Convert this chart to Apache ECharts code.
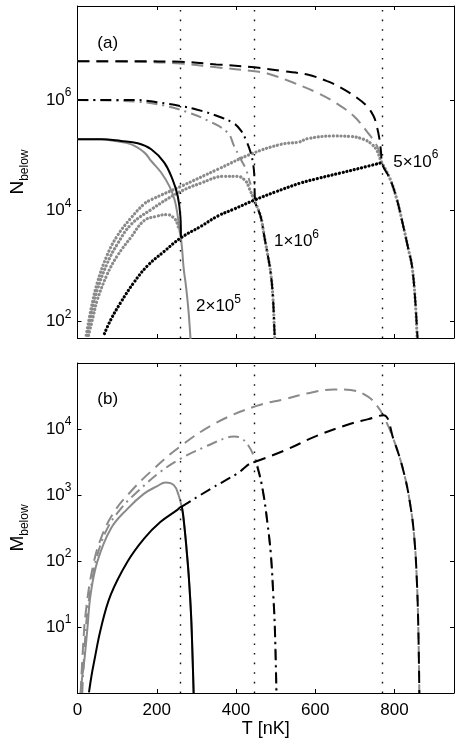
<!DOCTYPE html>
<html>
<head>
<meta charset="utf-8">
<script src="https://cdn.jsdelivr.net/npm/echarts@6/dist/echarts.min.js"></script>
<style>
  html, body { margin: 0; padding: 0; background: #fff; }
  #chart { width: 463px; height: 750px; }
</style>
</head>
<body>
<div id="chart"></div>
<script>
// transition temperatures (vertical dotted lines)
const tcList = [260, 447, 770]

// ---- panel (a): N_below ----
// 5x10^6, dashed
const aDashBlackT = [0, 150, 260, 350, 447, 520, 580, 630, 663, 705, 730, 747, 755, 762, 766, 768, 789, 806, 822, 835, 844, 852, 857, 859]
const aDashBlackN = [5.0e6, 5.0e6, 4.9e6, 4.4e6, 3.89e6, 3.31e6, 2.88e6, 2.19e6, 1.7e6, 1.1e6, 7.76e5, 5.13e5, 3.39e5, 1.95e5, 1.12e5, 7.4e4, 3.7e4, 1.58e4, 5.25e3, 2.0e3, 1.0e3, 251, 66, 40]
const aDashGrayT = [0, 150, 260, 350, 447, 479, 542, 605, 651, 697, 739, 751, 760, 766]
const aDashGrayN = [5.0e6, 4.9e6, 4.57e6, 3.9e6, 3.31e6, 3.02e6, 2.09e6, 1.35e6, 8.9e5, 5.13e5, 2.24e5, 1.7e5, 1.26e5, 8.9e4]
// 1x10^6, dash-dot
const aDashDotBlackT = [0, 150, 200, 261, 300, 353, 394, 412, 425, 437, 443, 446, 448, 462, 471, 480, 487, 493, 497, 499]
const aDashDotBlackN = [1.0e6, 1.0e6, 9.1e5, 7.76e5, 6.76e5, 5.13e5, 3.8e5, 2.82e5, 1.9e5, 1.12e5, 7.1e4, 4.47e4, 1.55e4, 7.9e3, 3.55e3, 1.58e3, 794, 282, 66, 32]
const aDashDotGrayT = [0, 150, 220, 278, 330, 379, 395, 412, 425, 433, 437]
const aDashDotGrayN = [1.0e6, 9.3e5, 7.9e5, 6.0e5, 4.2e5, 2.57e5, 1.48e5, 8.5e4, 5.6e4, 3.63e4, 2.95e4]
// 2x10^5, solid
const aSolidBlackT = [0, 60, 110, 152, 186, 219, 240, 253, 259.6, 261]
const aSolidBlackN = [1.95e5, 1.95e5, 1.82e5, 1.66e5, 1.29e5, 7.4e4, 3.63e4, 1.82e4, 7.9e3, 3.3e3]
const aSolidGrayT = [0, 60, 94, 136, 169, 186, 211, 232, 245, 253, 257, 261, 264, 268, 274, 280, 285, 287]
const aSolidGrayN = [1.95e5, 1.95e5, 1.82e5, 1.58e5, 1.12e5, 7.9e4, 4.9e4, 2.75e4, 1.58e4, 7.9e3, 4.57e3, 3.16e3, 2.0e3, 890, 417, 158, 50, 25]
// dotted curves
const aDotBlackT = [68, 84, 109, 142, 176, 218, 261, 312, 353, 395, 446, 500, 563, 605, 663, 720, 768]
const aDotBlackN = [60, 107, 219, 500, 1000, 1820, 3240, 5250, 7940, 1.07e4, 1.55e4, 2.19e4, 3.16e4, 3.8e4, 4.79e4, 6.03e4, 7.4e4]
const aDotGrayHiT = [22, 35, 50, 75, 100, 135, 168, 186, 261, 354, 437, 513, 559, 580, 647, 689, 722, 743, 756, 764, 768, 789, 806, 822, 835, 844, 852, 857]
const aDotGrayHiN = [56, 178, 500, 1580, 3470, 7400, 1.32e4, 1.58e4, 2.75e4, 5.6e4, 1.05e5, 1.58e5, 1.74e5, 2.0e5, 2.24e5, 2.19e5, 1.95e5, 1.58e5, 1.2e5, 8.5e4, 7.4e4, 3.7e4, 1.58e4, 5.25e3, 2.0e3, 1.0e3, 251, 50]
const aDotGrayMidT = [25, 37, 50, 75, 100, 135, 186, 253, 312, 370, 404, 425, 433, 446, 462, 471, 480, 487, 493, 497, 499]
const aDotGrayMidN = [56, 158, 372, 1120, 2450, 5620, 1.05e4, 2.09e4, 3.16e4, 4.17e4, 4.17e4, 3.39e4, 2.57e4, 1.55e4, 7.9e3, 3.55e3, 1.58e3, 794, 282, 66, 32]
const aDotGrayLoT = [28, 40, 50, 75, 100, 135, 168, 200, 226, 243, 251, 255]
const aDotGrayLoN = [56, 126, 245, 708, 1510, 3310, 6610, 7940, 8510, 7410, 6030, 4790]

// ---- panel (b): M_below ----
const bSolidBlackT = [29, 35, 42, 59, 84, 126, 168, 209, 251, 262, 265, 268, 272, 276, 280.5, 286.5, 290.7, 293]
const bSolidBlackM = [1.02, 1.78, 3.0, 9.5, 30.9, 97.7, 219, 389, 589, 661, 575, 417, 245, 132, 61.7, 15.5, 3.0, 1.0]
const bSolidGrayT = [8, 12, 17, 25, 33, 50, 84, 126, 168, 200, 222, 243, 255, 264, 268, 272, 276, 280.5, 286.5, 290.7, 293]
const bSolidGrayM = [1.0, 1.78, 3.0, 9.5, 30.9, 97.7, 309, 617, 1050, 1350, 1550, 1410, 1000, 617, 417, 245, 132, 61.7, 15.5, 3.0, 1.0]
const bDashDotBlackT = [262, 335, 402, 448, 454, 467, 479, 488, 494, 498, 502]
const bDashDotBlackM = [661, 1230, 2090, 3160, 2630, 1230, 389, 123, 30.9, 9.5, 1.0]
const bDashDotGrayT = [12, 18, 25, 38, 50, 75, 109, 151, 209, 260, 318, 377, 395, 410, 431, 448, 454, 467, 479, 488, 494, 498, 502]
const bDashDotGrayM = [1.0, 5.0, 17, 55, 123, 309, 617, 1120, 2240, 3550, 5250, 7410, 7670, 7410, 5620, 3550, 2820, 1230, 389, 123, 30.9, 9.5, 1.0]
const bDashBlackT = [446, 521, 605, 689, 734, 772, 797, 823, 840, 850, 856, 860, 862.5]
const bDashBlackM = [3160, 4680, 7940, 1.2e4, 1.41e4, 1.62e4, 7080, 2240, 692, 219, 55, 9.5, 1.0]
const bDashGrayT = [8, 14, 21, 38, 59, 92, 134, 184, 260, 352, 452, 521, 588, 647, 689, 731, 756, 772, 797, 823, 840, 850, 856, 860, 862.5]
const bDashGrayM = [1.0, 5.0, 17, 78, 219, 550, 1120, 2240, 5500, 1.26e4, 2.24e4, 2.82e4, 3.55e4, 3.98e4, 3.89e4, 3.16e4, 2.24e4, 1.58e4, 7080, 2240, 692, 219, 55, 9.5, 1.0]

// text annotations (placed in data coordinates)
const annABase = ['(a)', '5×10', '1×10', '2×10']
const annAExp = ['', '6', '6', '5']
const annAT = [50, 797, 496, 299]
const annAN = [1.07e7, 7.6e4, 2.8e3, 186]
const annBBase = ['(b)']
const annBExp = ['']
const annBT = [50]
const annBM = [2.8e4]

const FONT = '"Liberation Sans", Arial, Helvetica, sans-serif'
const GRAY = '#8a8a8a'
const DASH = [12, 7]
const DASHDOT = [11, 5, 2, 5]
const DOTS = [0.1, 3.7]

const zip = (t, v) => t.map((x, i) => [x, v[i]])

function curve(t, v, color, type, width, panel) {
  return {
    type: 'line',
    xAxisIndex: panel * 2,
    yAxisIndex: panel * 2,
    data: zip(t, v),
    symbol: 'none',
    smooth: 0.4,
    silent: true,
    lineStyle: {
      color: color,
      type: type,
      width: width,
      cap: type === DOTS ? 'round' : 'butt'
    }
  }
}

function powLabel(v) {
  const e = Math.log10(v)
  if (Math.abs(e - Math.round(e)) > 1e-6) return ''
  return '{b|10}{e|' + Math.round(e) + '}'
}

const richPow = {
  b: { fontSize: 17, lineHeight: 26, color: '#000', fontFamily: FONT },
  e: { fontSize: 12, lineHeight: 13, verticalAlign: 'top', color: '#000', fontFamily: FONT }
}

function annotations(base, exp, t, v, panel) {
  return {
    type: 'scatter',
    xAxisIndex: panel * 2,
    yAxisIndex: panel * 2,
    symbolSize: 0,
    silent: true,
    itemStyle: { opacity: 1 },
    data: base.map((s, i) => ({
      value: [t[i], v[i]],
      label: { formatter: exp[i] ? '{b|' + s + '}{e|' + exp[i] + '}' : '{b|' + s + '}' }
    })),
    label: { show: true, position: 'right', distance: 0, color: '#000', opacity: 1, rich: richPow }
  }
}

function vlines(panel) {
  return {
    type: 'line',
    xAxisIndex: panel * 2,
    yAxisIndex: panel * 2,
    data: [],
    markLine: {
      silent: true,
      symbol: ['none', 'none'],
      label: { show: false },
      emphasis: { disabled: true },
      lineStyle: { color: '#111', type: [1.6, 8], width: 1.4 },
      data: tcList.map(t => ({ xAxis: t }))
    }
  }
}

const frame = { show: true, onZero: false, lineStyle: { color: '#000', width: 1 } }
const tick = { show: true, inside: true, length: 4, lineStyle: { color: '#000', width: 1 } }

function xAxes(grid, withLabels) {
  const base = { type: 'value', gridIndex: grid, min: 0, max: 950, interval: 200,
    axisLine: frame, axisTick: tick, splitLine: { show: false } }
  return [
    Object.assign({}, base, {
      position: 'bottom',
      axisLabel: withLabels ? {
        show: true, fontSize: 17, color: '#000', margin: 9, fontFamily: FONT,
        formatter: v => (v % 200 === 0 ? String(v) : '')
      } : { show: false },
      name: withLabels ? 'T [nK]' : '',
      nameLocation: 'middle',
      nameGap: 27,
      nameTextStyle: { fontSize: 18, color: '#000', fontFamily: FONT }
    }),
    Object.assign({}, base, { position: 'top', axisLabel: { show: false } })
  ]
}

function yAxes(grid, min, max, logBase, sym) {
  const base = { type: 'log', gridIndex: grid, min: min, max: max, logBase: logBase,
    axisLine: frame, axisTick: tick, splitLine: { show: false }, minorTick: { show: false } }
  return [
    Object.assign({}, base, {
      position: 'left',
      axisLabel: { show: true, margin: 6, formatter: powLabel, rich: richPow,
        showMinLabel: false, showMaxLabel: false },
      name: '{n|' + sym + '}{s|below}',
      nameLocation: 'middle',
      nameRotate: 90,
      nameGap: 47,
      nameTextStyle: {
        rich: {
          n: { fontSize: 19, lineHeight: 26, color: '#000', fontFamily: FONT },
          s: { fontSize: 12, lineHeight: 13, verticalAlign: 'bottom', color: '#000', fontFamily: FONT }
        }
      }
    }),
    Object.assign({}, base, { position: 'right', axisLabel: { show: false } })
  ]
}

const chart = echarts.init(document.getElementById('chart'), null, { renderer: 'canvas' })
chart.setOption({
  animation: false,
  textStyle: { fontFamily: FONT },
  grid: [
    { left: 76, right: 9, top: 6, height: 332 },
    { left: 76, right: 9, top: 363, height: 330 }
  ],
  xAxis: xAxes(0, false).concat(xAxes(1, true)),
  yAxis: yAxes(0, 50, 5e7, 100, 'N').concat(yAxes(1, 1, 1e5, 10, 'M')),
  series: [
    vlines(0),
    curve(aDotGrayLoT, aDotGrayLoN, GRAY, DOTS, 3.2, 0),
    curve(aDotGrayMidT, aDotGrayMidN, GRAY, DOTS, 3.2, 0),
    curve(aDotGrayHiT, aDotGrayHiN, GRAY, DOTS, 3.2, 0),
    curve(aDashGrayT, aDashGrayN, GRAY, DASH, 2, 0),
    curve(aDashDotGrayT, aDashDotGrayN, GRAY, DASHDOT, 2, 0),
    curve(aSolidGrayT, aSolidGrayN, GRAY, 'solid', 2, 0),
    curve(aDotBlackT, aDotBlackN, '#000', DOTS, 3.2, 0),
    curve(aDashBlackT, aDashBlackN, '#000', DASH, 2, 0),
    curve(aDashDotBlackT, aDashDotBlackN, '#000', DASHDOT, 2, 0),
    curve(aSolidBlackT, aSolidBlackN, '#000', 'solid', 2, 0),
    annotations(annABase, annAExp, annAT, annAN, 0),

    vlines(1),
    curve(bDashGrayT, bDashGrayM, GRAY, DASH, 2, 1),
    curve(bDashDotGrayT, bDashDotGrayM, GRAY, DASHDOT, 2, 1),
    curve(bSolidGrayT, bSolidGrayM, GRAY, 'solid', 2, 1),
    curve(bDashBlackT, bDashBlackM, '#000', DASH, 2, 1),
    curve(bDashDotBlackT, bDashDotBlackM, '#000', DASHDOT, 2, 1),
    curve(bSolidBlackT, bSolidBlackM, '#000', 'solid', 2, 1),
    annotations(annBBase, annBExp, annBT, annBM, 1)
  ]
})
</script>
</body>
</html>
